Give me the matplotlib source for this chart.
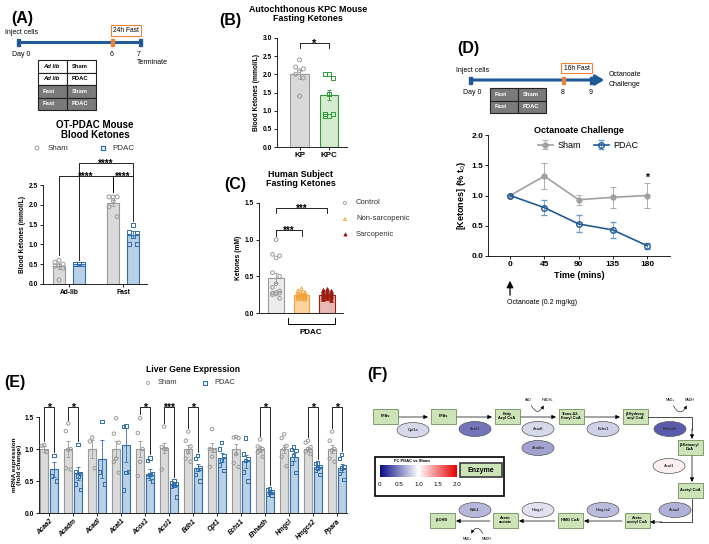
import numpy as np
import matplotlib.pyplot as plt
from matplotlib.patches import Rectangle, Ellipse, FancyArrowPatch
from matplotlib.colors import LinearSegmentedColormap

plt.rcParams['font.family'] = ['Liberation Sans', 'DejaVu Sans']
plt.rcParams['axes.linewidth'] = 0.6
plt.rcParams['xtick.major.width'] = 0.6
plt.rcParams['ytick.major.width'] = 0.6
plt.rcParams['xtick.major.size'] = 2
plt.rcParams['ytick.major.size'] = 2
plt.rcParams['xtick.major.pad'] = 1.5
plt.rcParams['ytick.major.pad'] = 1.5

# ---------------- data ----------------
# (A) OT-PDAC mouse blood ketones
a_groups = ["Ad-lib", "Fast"]
a_sham_mean = [0.45, 2.05]
a_sham_sem = [0.06, 0.08]
a_pdac_mean = [0.50, 1.25]
a_pdac_sem = [0.01, 0.08]
a_sham_pts = [[0.60, 0.55, 0.50, 0.47, 0.45, 0.40, 0.10],
              [2.20, 2.20, 2.20, 2.10, 1.95, 1.70]]
a_pdac_pts = [[0.50, 0.50, 0.50, 0.50, 0.50, 0.50],
              [1.50, 1.32, 1.30, 1.20, 1.00, 1.00]]

# (B) autochthonous KPC fasting ketones
b_groups = ["KP", "KPC"]
b_mean = [2.00, 1.43]
b_sem = [0.13, 0.15]
b_pts = [[2.40, 2.20, 2.15, 2.10, 2.00, 1.90, 1.40],
         [2.00, 2.00, 1.90, 1.45, 0.90, 0.90, 0.85, 0.85]]

# (C) human subject fasting ketones
c_groups = ["Control", "Non-sarcopenic", "Sarcopenic"]
c_mean = [0.48, 0.24, 0.24]
c_sem = [0.07, 0.01, 0.01]
c_pts = [[1.00, 0.80, 0.78, 0.75, 0.55, 0.50, 0.40, 0.35, 0.30, 0.28, 0.27, 0.27, 0.26, 0.25, 0.20],
         [0.33, 0.30, 0.28, 0.27, 0.26, 0.25, 0.25, 0.24, 0.23, 0.22, 0.22, 0.21, 0.20, 0.20, 0.19],
         [0.33, 0.31, 0.30, 0.29, 0.28, 0.27, 0.26, 0.25, 0.24, 0.23, 0.22, 0.22, 0.20, 0.19, 0.18]]

# (D) octanoate challenge
d_time = [0, 45, 90, 135, 180]
d_sham = [1.00, 1.32, 0.93, 0.97, 1.00]
d_sham_err = [0.00, 0.21, 0.08, 0.17, 0.21]
d_pdac = [1.00, 0.80, 0.53, 0.43, 0.17]
d_pdac_err = [0.00, 0.12, 0.14, 0.14, 0.05]

# (E) liver gene expression
genes = ["Acaa2", "Acadm", "Acadl", "Acat1", "Acox1", "Acsl1", "Bdh1",
         "Cpt1", "Echs1", "Ehhadh", "Hmgcl", "Hmgcs2", "Ppara"]
e_sham_mean = [1.00, 1.00, 1.00, 1.00, 1.00, 1.02, 1.00, 1.02, 1.00, 1.00, 1.00, 1.00, 1.00]
e_sham_sem = [0.04, 0.12, 0.14, 0.13, 0.13, 0.08, 0.07, 0.07, 0.08, 0.04, 0.07, 0.03, 0.07]
e_pdac_mean = [0.68, 0.62, 0.84, 1.06, 0.60, 0.44, 0.71, 0.86, 0.81, 0.33, 0.88, 0.72, 0.70]
e_pdac_sem = [0.12, 0.10, 0.30, 0.27, 0.08, 0.04, 0.06, 0.07, 0.10, 0.02, 0.06, 0.03, 0.06]
e_sham_pts = [[1.06, 1.05, 0.95],
              [1.40, 1.28, 1.00, 0.99, 0.70, 0.68],
              [1.18, 1.12, 0.70],
              [1.48, 1.24, 1.10, 0.85, 0.80, 0.63],
              [1.48, 1.25, 1.00, 0.80, 0.58],
              [1.35, 1.03, 1.00, 1.00, 0.68],
              [1.27, 1.13, 1.04, 0.95, 0.85, 0.80],
              [1.31, 1.00, 0.97, 0.88, 0.72],
              [1.19, 1.18, 1.17, 0.92, 0.78, 0.72],
              [1.15, 1.04, 1.00, 0.98, 0.95, 0.88],
              [1.23, 1.17, 1.05, 1.00, 0.88, 0.73],
              [1.13, 1.10, 1.03, 1.00, 0.96, 0.92],
              [1.27, 1.13, 1.00, 0.98, 0.85, 0.80]]
e_pdac_pts = [[0.90, 0.58, 0.50],
              [1.07, 0.65, 0.62, 0.58, 0.45, 0.37],
              [1.43, 0.64, 0.45],
              [1.36, 1.35, 0.65, 0.63, 0.36],
              [0.86, 0.82, 0.62, 0.60, 0.58, 0.50],
              [0.50, 0.48, 0.45, 0.43, 0.42, 0.25],
              [0.90, 0.85, 0.70, 0.68, 0.60, 0.50],
              [1.10, 1.00, 0.90, 0.83, 0.75, 0.66],
              [1.17, 0.92, 0.85, 0.82, 0.64, 0.50],
              [0.38, 0.36, 0.34, 0.32, 0.30, 0.27],
              [1.03, 0.99, 0.98, 0.90, 0.78, 0.63],
              [0.78, 0.77, 0.73, 0.70, 0.66, 0.60],
              [0.91, 0.85, 0.72, 0.70, 0.62, 0.52]]
e_signif = {"Acaa2": "*", "Acadm": "*", "Acox1": "*", "Acsl1": "***", "Bdh1": "*",
            "Ehhadh": "*", "Hmgcs2": "*", "Ppara": "*"}

# (F) pathway: enzyme -> gene in (E)
f_enzymes = {"Cpt1a": "Cpt1", "Acsl1": "Acsl1", "Acadl": "Acadl", "Acadm": "Acadm",
             "Echs1": "Echs1", "Ehhadh": "Ehhadh", "Acat1": "Acat1", "Acaa2": "Acaa2",
             "Hmgcs2": "Hmgcs2", "Hmgcl": "Hmgcl", "Bdh1": "Bdh1"}

SHAM_EDGE, SHAM_FILL = '#9a9a9a', '#dadada'
PDAC_EDGE, PDAC_FILL = '#2f6eaa', '#b9d0e7'
BLUE_LINE = '#1f5a96'
ORANGE = '#e8843a'

W, H = 709, 544
fig = plt.figure(figsize=(W / 100, H / 100), dpi=100)


def add_ax(x0, y0, x1, y1):
    ax = fig.add_axes([x0 / W, 1 - y1 / H, (x1 - x0) / W, (y1 - y0) / H])
    ax.spines[['top', 'right']].set_visible(False)
    ax.patch.set_visible(False)
    return ax


def offsets(n, step):
    return np.tile([0, -1, 1], n)[:n] * step


def bar_dots(ax, x, mean, sem, pts, width, edge, fill, marker, mfill='none', ms=3, step=0.07):
    ax.bar(x, mean, width, color=fill, edgecolor=edge, linewidth=0.8, zorder=1)
    ax.errorbar(x, mean, yerr=sem, fmt='none', ecolor=edge, elinewidth=0.6,
                capsize=1.5, capthick=0.6, zorder=3)
    vals = np.sort(np.asarray(pts))[::-1]
    ax.scatter(x + offsets(len(vals), step), vals, s=ms, marker=marker,
               facecolors=mfill, edgecolors=edge, linewidths=0.7, zorder=4, clip_on=False)


def bracket(ax, x1, x2, y, yl, yr, label, fs=6.5, dy=0.0):
    ax.plot([x1, x1, x2, x2], [yl, y, y, yr], color='k', lw=0.6, clip_on=False)
    ax.text((x1 + x2) / 2, y + dy, label, ha='center', va='bottom', fontsize=fs,
            fontweight='bold', clip_on=False)


def style(ax, fs=4.5):
    ax.tick_params(labelsize=fs)
    for lab in ax.get_xticklabels() + ax.get_yticklabels():
        lab.set_fontweight('bold')


# overlay for diagrams and free text
ov = fig.add_axes([0, 0, 1, 1])
ov.set_xlim(0, W)
ov.set_ylim(H, 0)
ov.axis('off')
ov.set_zorder(5)

# ---------------- panel labels ----------------
for lab, x, y in [("(A)", 11, 18), ("(B)", 219, 20), ("(C)", 224, 184),
                  ("(D)", 457, 48), ("(E)", 4, 383), ("(F)", 367, 375)]:
    ov.text(x, y, lab, fontsize=11.5, fontweight='bold', ha='left', va='center')


def timeline(x0, x1, y, marks, arrow=False):
    if arrow:
        ov.add_patch(FancyArrowPatch((x0, y), (x1, y), arrowstyle='-|>,head_length=5,head_width=3',
                                     color=BLUE_LINE, lw=2.2, mutation_scale=1))
    else:
        ov.plot([x0, x1], [y, y], color=BLUE_LINE, lw=2.2, solid_capstyle='butt')
    for mx, c in marks:
        ov.add_patch(Rectangle((mx - 1.5, y - 3.5), 3, 7, color=c, zorder=6))


def table(x0, y0, cw, rh, rows, shaded):
    for i, (c1, c2) in enumerate(rows):
        fc = '#7a7a7a' if shaded[i] else 'white'
        tc = 'white' if shaded[i] else 'black'
        for j, txt in enumerate((c1, c2)):
            ov.add_patch(Rectangle((x0 + j * cw, y0 + i * rh), cw, rh, facecolor=fc,
                                   edgecolor='#222222', lw=0.8))
            style_ = 'italic' if txt == "Ad lib" else 'normal'
            ov.text(x0 + j * cw + 5, y0 + (i + 0.5) * rh, txt, fontsize=4.2, fontweight='bold',
                    fontstyle=style_, color=tc, ha='left', va='center')


# ---------------- (A) ----------------
ov.text(5, 33, "Inject cells", fontsize=5, ha='left', va='center')
timeline(18, 140, 42, [(18, BLUE_LINE), (112, ORANGE), (140, BLUE_LINE)])
ov.add_patch(Rectangle((111, 25), 30, 11, facecolor='white', edgecolor=ORANGE, lw=0.8))
ov.text(126, 30.5, "24h Fast", fontsize=4.8, ha='center', va='center')
ov.text(12, 55, "Day 0", fontsize=5, ha='left', va='center')
ov.text(112, 55, "6", fontsize=5, ha='center', va='center')
ov.text(137, 55, "7", fontsize=5, ha='left', va='center')
ov.text(137, 63, "Terminate", fontsize=5, ha='left', va='center')
table(38, 60, 29, 12.5, [("Ad lib", "Sham"), ("Ad lib", "PDAC"), ("Fast", "Sham"), ("Fast", "PDAC")],
      [False, False, True, True])

ov.text(95, 130, "OT-PDAC Mouse\nBlood Ketones", fontsize=7, fontweight='bold',
        ha='center', va='center', linespacing=1.1)
ov.scatter([37], [148], s=8, marker='o', facecolors='none', edgecolors=SHAM_EDGE, lw=0.7)
ov.text(48, 148, "Sham", fontsize=5.8, ha='left', va='center', color='#333333')
ov.scatter([103], [148], s=8, marker='s', facecolors='none', edgecolors=PDAC_EDGE, lw=0.9)
ov.text(112, 148, "PDAC", fontsize=5.8, ha='left', va='center', color='#333333')

axA = add_ax(43, 185, 147, 284)
xa = np.arange(len(a_groups))
for i in xa:
    bar_dots(axA, i - 0.185, a_sham_mean[i], a_sham_sem[i], a_sham_pts[i], 0.22,
             SHAM_EDGE, SHAM_FILL, 'o', ms=8, step=0.075)
    bar_dots(axA, i + 0.185, a_pdac_mean[i], a_pdac_sem[i], a_pdac_pts[i], 0.22,
             PDAC_EDGE, PDAC_FILL, 's', ms=8, step=0.075)
axA.set_xlim(-0.48, 1.44)
axA.set_ylim(0, 2.5)
axA.set_yticks(np.arange(0, 2.51, 0.5))
axA.set_yticklabels([f"{v:.1f}" for v in np.arange(0, 2.51, 0.5)])
axA.set_xticks(xa)
axA.set_xticklabels(a_groups)
axA.set_ylabel("Blood Ketones (mmol/L)", fontsize=4.8, fontweight='bold', labelpad=2)
style(axA, 4.8)
bracket(axA, -0.185, 0.815, 2.72, 0.72, 2.32, "****", fs=7, dy=-0.13)
bracket(axA, 0.815, 1.185, 2.72, 2.32, 1.6, "****", fs=7, dy=-0.13)
bracket(axA, 0.185, 1.185, 3.05, 0.6, 2.72, "****", fs=7, dy=-0.13)

# ---------------- (B) ----------------
ov.text(308, 14, "Autochthonous KPC Mouse\nFasting Ketones", fontsize=6.4, fontweight='bold',
        ha='center', va='center', linespacing=1.1)
axB = add_ax(277, 38, 347, 147)
xb = np.arange(len(b_groups))
bar_dots(axB, xb[0], b_mean[0], b_sem[0], b_pts[0], 0.62, SHAM_EDGE, '#d9d9d9', 'o', ms=8, step=0.13)
bar_dots(axB, xb[1], b_mean[1], b_sem[1], b_pts[1], 0.62, '#2e9a3a', '#d4ebcf', 's', ms=8, step=0.13)
axB.set_xlim(-0.76, 1.6)
axB.set_ylim(0, 3.0)
axB.set_yticks(np.arange(0, 3.01, 0.5))
axB.set_yticklabels([f"{v:.1f}" for v in np.arange(0, 3.01, 0.5)])
axB.set_xticks(xb)
axB.set_xticklabels(b_groups)
axB.set_ylabel("Blood Ketones (mmol/L)", fontsize=4.8, fontweight='bold', labelpad=2)
style(axB, 4.8)
axB.tick_params(axis='x', labelsize=5.8)
bracket(axB, 0, 1, 2.86, 2.72, 2.72, "*", fs=8, dy=-0.17)

# ---------------- (C) ----------------
ov.text(301, 179, "Human Subject\nFasting Ketones", fontsize=6.4, fontweight='bold',
        ha='center', va='center', linespacing=1.1)
axC = add_ax(259, 203, 343, 313)
xc = np.arange(len(c_groups))
c_style = [(SHAM_EDGE, '#ececec', 'o', 'none'),
           ('#f2a23a', '#fbd39c', '^', 'none'),
           ('#9b1c12', '#e9b9b3', '^', '#9b1c12')]
for i in xc:
    e, f, m, mf = c_style[i]
    bar_dots(axC, i, c_mean[i], c_sem[i], c_pts[i], 0.6, e, f, m, mfill=mf, ms=7, step=0.14)
axC.set_xlim(-0.67, 2.63)
axC.set_ylim(0, 1.5)
axC.set_yticks([0, 0.5, 1.0, 1.5])
axC.set_yticklabels(["0.0", "0.5", "1.0", "1.5"])
axC.set_xticks([])
axC.set_ylabel("Ketones (mM)", fontsize=4.8, fontweight='bold', labelpad=2)
style(axC, 4.8)
bracket(axC, 0, 1, 1.13, 1.05, 1.05, "***", fs=7, dy=-0.08)
bracket(axC, 0, 2, 1.43, 1.36, 1.36, "***", fs=7, dy=-0.08)
ov.plot([288, 288, 335, 335], [318, 324, 324, 318], color='k', lw=0.7)
ov.text(311, 333, "PDAC", fontsize=5.8, fontweight='bold', ha='center', va='center')
for i, (lab, y) in enumerate(zip(c_groups, [203, 219, 234])):
    e, f, m, mf = c_style[i]
    ov.scatter([345], [y], s=5, marker=m, facecolors=mf, edgecolors=e, lw=0.6)
    ov.text(356, y, lab, fontsize=5.5, ha='left', va='center', color='#333333')

# ---------------- (D) ----------------
ov.text(456, 70, "Inject cells", fontsize=5, ha='left', va='center')
timeline(470, 607, 80, [(470, BLUE_LINE), (563, ORANGE), (591, BLUE_LINE)], arrow=True)
ov.add_patch(Rectangle((561, 63), 31, 10, facecolor='white', edgecolor=ORANGE, lw=0.8))
ov.text(576.5, 68, "16h Fast", fontsize=4.8, ha='center', va='center')
ov.text(609, 75, "Octanoate", fontsize=5, ha='left', va='center')
ov.text(609, 84, "Challenge", fontsize=5, ha='left', va='center')
ov.text(463, 92, "Day 0", fontsize=5, ha='left', va='center')
ov.text(563, 92, "8", fontsize=5, ha='center', va='center')
ov.text(591, 92, "9", fontsize=5, ha='center', va='center')
table(490, 88, 28, 12.5, [("Fast", "Sham"), ("Fast", "PDAC")], [True, True])

axD = add_ax(488, 135, 670, 256)
axD.errorbar(d_time, d_sham, yerr=d_sham_err, color='#a0a0a0', lw=1.2, marker='o', ms=3.5,
             mfc='#a0a0a0', mec='#a0a0a0', elinewidth=0.6, capsize=2, capthick=0.6, label="Sham")
axD.errorbar(d_time, d_pdac, yerr=d_pdac_err, color=BLUE_LINE, lw=1.2, marker='o', ms=4,
             mfc='none', mec=BLUE_LINE, mew=1.0, elinewidth=0.6, capsize=2, capthick=0.6,
             ecolor='#6d9cc8', label="PDAC")
axD.set_xlim(-29, 210)
axD.set_ylim(0, 2.0)
axD.set_xticks(d_time)
axD.set_yticks([0, 0.5, 1.0, 1.5, 2.0])
axD.set_yticklabels(["0.0", "0.5", "1.0", "1.5", "2.0"])
axD.set_xlabel("Time (mins)", fontsize=6.5, fontweight='bold', labelpad=2)
axD.set_ylabel("[Ketones] (% t$_0$)", fontsize=6.5, fontweight='bold', labelpad=2)
style(axD, 6)
axD.set_title("Octanoate Challenge", fontsize=6.5, fontweight='bold', pad=1)
axD.legend(ncol=2, loc='upper center', bbox_to_anchor=(0.55, 0.98), frameon=False, fontsize=6.5,
           handlelength=1.6, columnspacing=1.5, handletextpad=0.5, borderaxespad=0)
axD.text(180, 1.3, "*", ha='center', va='center', fontsize=7.5, fontweight='bold')
ov.add_patch(FancyArrowPatch((510, 298), (510, 278), arrowstyle='-|>,head_length=4,head_width=2',
                             color='k', lw=0.9, mutation_scale=1))
ov.text(507, 303, "Octanoate (0.2 mg/kg)", fontsize=5, ha='left', va='center')

# ---------------- (E) ----------------
ov.text(193, 370, "Liver Gene Expression", fontsize=6.2, fontweight='bold', ha='center', va='center')
ov.scatter([148], [383], s=5, marker='o', facecolors='none', edgecolors=SHAM_EDGE, lw=0.6)
ov.text(158, 383, "Sham", fontsize=5.4, ha='left', va='center', color='#333333')
ov.scatter([205], [383], s=5, marker='s', facecolors='none', edgecolors=PDAC_EDGE, lw=0.8)
ov.text(214, 383, "PDAC", fontsize=5.4, ha='left', va='center', color='#333333')

axE = add_ax(39, 417, 347, 513)
xe = np.arange(len(genes))
for i in xe:
    bar_dots(axE, i - 0.2, e_sham_mean[i], e_sham_sem[i], e_sham_pts[i], 0.33,
             SHAM_EDGE, SHAM_FILL, 'o', ms=6, step=0.1)
    bar_dots(axE, i + 0.2, e_pdac_mean[i], e_pdac_sem[i], e_pdac_pts[i], 0.33,
             PDAC_EDGE, PDAC_FILL, 's', ms=6, step=0.1)
    if genes[i] in e_signif:
        bracket(axE, i - 0.2, i + 0.2, 1.66, max(e_sham_pts[i]) + 0.06,
                max(e_pdac_pts[i]) + 0.06, e_signif[genes[i]], fs=7.5, dy=-0.1)
axE.set_xlim(-0.42, 12.42)
axE.set_ylim(0, 1.5)
axE.set_yticks([0, 0.5, 1.0, 1.5])
axE.set_yticklabels(["0.0", "0.5", "1.0", "1.5"])
axE.set_xticks(xe)
axE.set_xticklabels(genes, rotation=45, ha='right', rotation_mode='anchor', fontstyle='italic')
axE.set_ylabel("mRNA expression\n(fold change)", fontsize=4.6, fontweight='bold', labelpad=2,
               linespacing=1.0)
style(axE, 4.8)

# ---------------- (F) ----------------
cmap = LinearSegmentedColormap.from_list("fc", ["#0b0b85", "#ffffff", "#e80000"])
BOX_FC, BOX_EC = '#cde4b8', '#6f8f58'


def mbox(cx, cy, txt, w=25, h=15):
    ov.add_patch(Rectangle((cx - w / 2, cy - h / 2), w, h, facecolor=BOX_FC, edgecolor=BOX_EC, lw=0.6))
    ov.text(cx, cy, txt, fontsize=2.8, fontweight='bold', ha='center', va='center', linespacing=1.0)


def enzyme(cx, cy, name):
    g = f_enzymes[name]
    fc = e_pdac_mean[genes.index(g)] / e_sham_mean[genes.index(g)]
    ov.add_patch(Ellipse((cx, cy), 32, 15, facecolor=cmap(fc / 2), edgecolor='#555555', lw=0.5))
    ov.text(cx, cy, name, fontsize=2.8, ha='center', va='center', fontweight='bold', color='#333333')


def arrow(p0, p1):
    ov.add_patch(FancyArrowPatch(p0, p1, arrowstyle='-|>,head_length=2.5,head_width=1.2',
                                 color='k', lw=0.5, mutation_scale=1, shrinkA=0, shrinkB=0))


top_row = [(385, "FFAs"), (443, "FFAs"), (507, "Fatty\nAcyl CoA"), (571, "Trans-Δ2-\nEnoyl CoA"),
           (635, "β-Hydroxy\nacyl CoA")]
for cx, t in top_row:
    mbox(cx, 416, t)
for (c0, _), (c1, _) in zip(top_row[:-1], top_row[1:]):
    arrow((c0 + 14, 417), (c1 - 15, 417))
bot_row = [(442, "β-OHB"), (505, "Aceto\nacetate"), (570, "HMG CoA"), (637, "Aceto\nacetyl CoA")]
for cx, t in bot_row:
    mbox(cx, 520, t)
for (c0, _), (c1, _) in zip(bot_row[:-1], bot_row[1:]):
    arrow((c1 - 15, 521), (c0 + 14, 521))
mbox(690, 447, "β-Ketoacyl\nCoA")
mbox(690, 490, "Acetyl CoA")
ov.plot([648, 692, 692], [417, 417, 430], color='k', lw=0.5)
arrow((692, 429), (692, 439))
arrow((692, 456), (692, 482))
ov.plot([692, 692, 660], [499, 522, 522], color='k', lw=0.5)
arrow((662, 522), (650, 522))

for cx, cy, n in [(413, 430, "Cpt1a"), (475, 429, "Acsl1"), (538, 429, "Acadl"), (538, 448, "Acadm"),
                  (603, 429, "Echs1"), (670, 429, "Ehhadh"), (669, 466, "Acat1"), (675, 510, "Acaa2"),
                  (603, 510, "Hmgcs2"), (538, 510, "Hmgcl"), (475, 510, "Bdh1")]:
    enzyme(cx, cy, n)

for x0, x1, y, l0, l1, rad in [(530, 545, 403, "FAD", "FADH$_2$", 1.1), (672, 688, 403, "NAD+", "NADH", 1.1)]:
    ov.add_patch(FancyArrowPatch((x0, y), (x1, y), connectionstyle=f"arc3,rad={rad}",
                                 arrowstyle='-|>,head_length=2,head_width=1', color='k', lw=0.4,
                                 mutation_scale=1))
    ov.text(x0 - 2, y - 3, l0, fontsize=2.5, ha='center', va='center')
    ov.text(x1 + 2, y - 3, l1, fontsize=2.5, ha='center', va='center')
ov.add_patch(FancyArrowPatch((484, 536), (470, 536), connectionstyle="arc3,rad=1.1",
                             arrowstyle='-|>,head_length=2,head_width=1', color='k', lw=0.4,
                             mutation_scale=1))
ov.text(467, 539, "NAD+", fontsize=2.5, ha='center', va='center')
ov.text(487, 539, "NADH", fontsize=2.5, ha='center', va='center')

# colour legend
ov.add_patch(Rectangle((375, 457), 129, 39, facecolor='white', edgecolor='k', lw=1.2))
ov.text(412, 461.5, "FC PDAC vs Sham", fontsize=3, fontweight='bold', ha='center', va='center')
axCb = fig.add_axes([380 / W, 1 - 477 / H, 77 / W, 12 / H])
axCb.imshow(np.linspace(0, 2, 256)[None, :], cmap=cmap, aspect='auto', vmin=0, vmax=2)
axCb.axis('off')
axCb.set_zorder(6)
for v in [0, 0.5, 1.0, 1.5, 2.0]:
    ov.text(380 + v / 2 * 77, 485, "0" if v == 0 else f"{v:.1f}", fontsize=4.5, ha='center', va='center')
ov.add_patch(Rectangle((460, 463), 42, 14, facecolor=BOX_FC, edgecolor='#3a3a3a', lw=1.2))
ov.text(481, 470, "Enzyme", fontsize=5, fontweight='bold', ha='center', va='center')

fig.savefig("out.png", dpi=100)
